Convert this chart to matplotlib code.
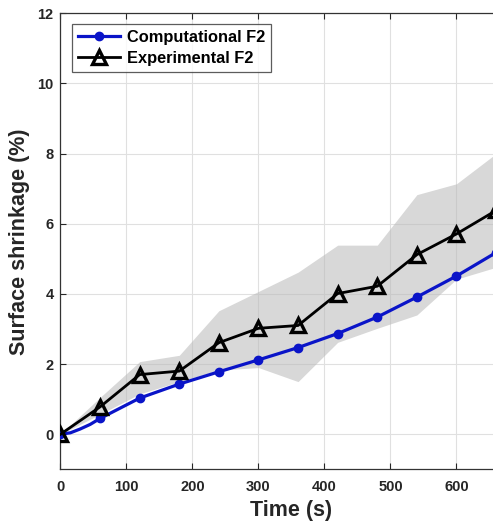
import matplotlib.pyplot as plt

# Computational F2 (dense near the start, markers every 60 s)
t_comp = [0, 15, 30, 45, 60, 120, 180, 240, 300, 360, 420, 480, 540, 600, 660]
s_comp = [0, 0.04, 0.15, 0.28, 0.45, 1.03, 1.43, 1.78, 2.12, 2.47, 2.87, 3.34, 3.91, 4.51, 5.18]
comp_marks = [0, 4, 5, 6, 7, 8, 9, 10, 11, 12, 13, 14]

# Experimental F2 with min/max band
t_exp = [0, 60, 120, 180, 240, 300, 360, 420, 480, 540, 600, 660]
s_exp = [0, 0.78, 1.70, 1.80, 2.61, 3.02, 3.10, 4.01, 4.22, 5.12, 5.71, 6.38]
s_hi = [0, 1.05, 2.07, 2.25, 3.52, 4.07, 4.62, 5.39, 5.39, 6.83, 7.14, 8.00]
s_lo = [0, 0.57, 1.15, 1.50, 1.83, 1.90, 1.50, 2.62, 3.02, 3.40, 4.42, 4.76]

x_ticks = [0, 100, 200, 300, 400, 500, 600, 700]
x_labels = ['0', '100', '200', '300', '400', '500', '600', '']

plt.rcParams['font.family'] = ['Liberation Sans', 'DejaVu Sans']
plt.rcParams['font.weight'] = 'bold'

fig = plt.figure(figsize=(4.93, 5.26), dpi=100)
ax = fig.add_axes([0.1227, 0.1078, 700 * 0.66 / 493, 0.8669])

ax.fill_between(t_exp, s_lo, s_hi, color='0.72', alpha=0.55, lw=0, zorder=2)
ax.plot(t_comp, s_comp, '-o', color='#0a14c8', lw=2.3, ms=6, markevery=comp_marks,
        label='Computational F2', zorder=3)
ax.plot(t_exp, s_exp, '-^', color='black', lw=2.0, ms=9.5, mfc='none', mew=2.4,
        label='Experimental F2', zorder=4)

ax.set_xlim(0, 700)
ax.set_ylim(-1, 12)
ax.set_xticks(x_ticks)
ax.set_xticklabels(x_labels)
ax.set_yticks(range(0, 13, 2))
ax.grid(True, color='0.88', lw=0.8, zorder=0)
ax.set_axisbelow(True)
ax.tick_params(direction='in', top=True, right=True, labelsize=10.5, colors='#262626',
               length=4)
ax.tick_params(axis='x', pad=8)
ax.tick_params(axis='y', pad=5)
for lab in ax.get_xticklabels() + ax.get_yticklabels():
    lab.set_fontweight('bold')
for sp in ax.spines.values():
    sp.set_color('#333333')
    sp.set_linewidth(0.9)

ax.set_xlabel('Time (s)', fontsize=15.5, fontweight='bold', color='#262626', labelpad=4)
ax.set_ylabel('Surface shrinkage (%)', fontsize=15.5, fontweight='bold', color='#262626',
              labelpad=5)

leg = ax.legend(loc='upper left', bbox_to_anchor=(0.025, 0.977),
                prop={'weight': 'bold', 'size': 11.8}, frameon=True, fancybox=False,
                borderpad=0.35, handlelength=2.6, handletextpad=0.4, labelspacing=0.4,
                borderaxespad=0)
leg.get_frame().set_edgecolor('#333333')
leg.get_frame().set_linewidth(0.9)

fig.savefig('out.png', dpi=100)
